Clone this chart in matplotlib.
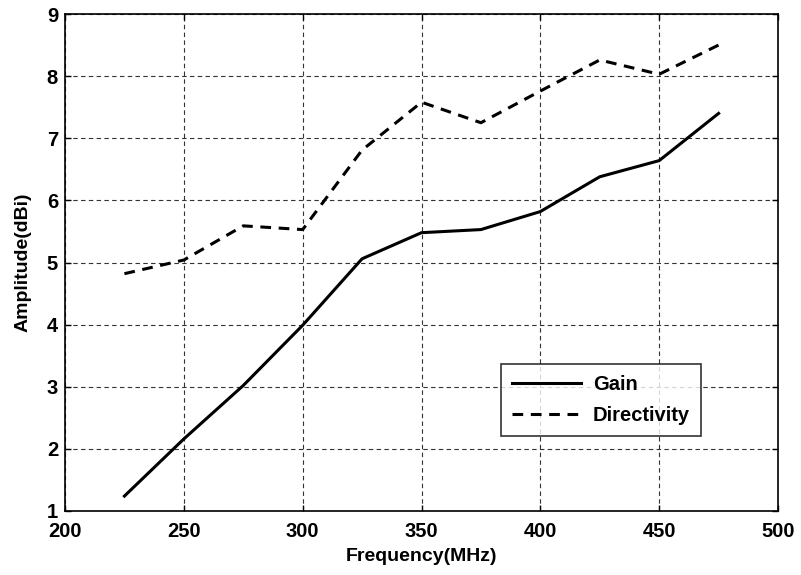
import matplotlib
matplotlib.use("Agg")
import matplotlib.pyplot as plt

freq = [225, 250, 275, 300, 325, 350, 375, 400, 425, 450, 475]
gain = [1.24, 2.16, 3.02, 3.99, 5.06, 5.48, 5.53, 5.82, 6.38, 6.64, 7.40]
directivity = [4.82, 5.04, 5.59, 5.53, 6.81, 7.58, 7.25, 7.76, 8.26, 8.03, 8.50]
xticks = [200, 250, 300, 350, 400, 450, 500]
yticks = [1, 2, 3, 4, 5, 6, 7, 8, 9]

plt.rcParams['font.family'] = ['Liberation Sans', 'DejaVu Sans']
plt.rcParams['font.weight'] = 'bold'

fig = plt.figure(figsize=(8.01, 5.75), dpi=100)
ax = fig.add_axes([65/801, 1 - 511/575, (778-65)/801, (511-14)/575])

ax.plot(freq, gain, color='black', linewidth=2.2, linestyle='-', label='Gain')
ax.plot(freq, directivity, color='black', linewidth=2.2, linestyle=(0, (3.5, 2.5)), label='Directivity')

ax.set_xlim(200, 500)
ax.set_ylim(1, 9)
ax.set_xticks(xticks)
ax.set_yticks(yticks)
ax.tick_params(direction='in', length=4, width=1, labelsize=14.5, top=True, right=True)
ax.tick_params(axis='x', pad=8)
ax.tick_params(axis='y', pad=5)
for lab in ax.get_xticklabels() + ax.get_yticklabels():
    lab.set_fontweight('bold')
ax.grid(True, color='#333333', linestyle=(0, (4, 3)), linewidth=0.8)
for s in ax.spines.values():
    s.set_linewidth(1.2)

ax.set_xlabel('Frequency(MHz)', fontsize=14, fontweight='bold', labelpad=5)
ax.set_ylabel('Amplitude(dBi)', fontsize=14, fontweight='bold', labelpad=11)

leg = ax.legend(loc='lower right', bbox_to_anchor=((701-65)/713, (511-436)/497),
                borderaxespad=0,
                fontsize=14.5, frameon=True, fancybox=False, edgecolor='black',
                handlelength=3.4, borderpad=0.55, labelspacing=0.6, handletextpad=0.6)
leg.get_frame().set_linewidth(1.2)
for t in leg.get_texts():
    t.set_fontweight('bold')

fig.savefig('out.png', dpi=100)
